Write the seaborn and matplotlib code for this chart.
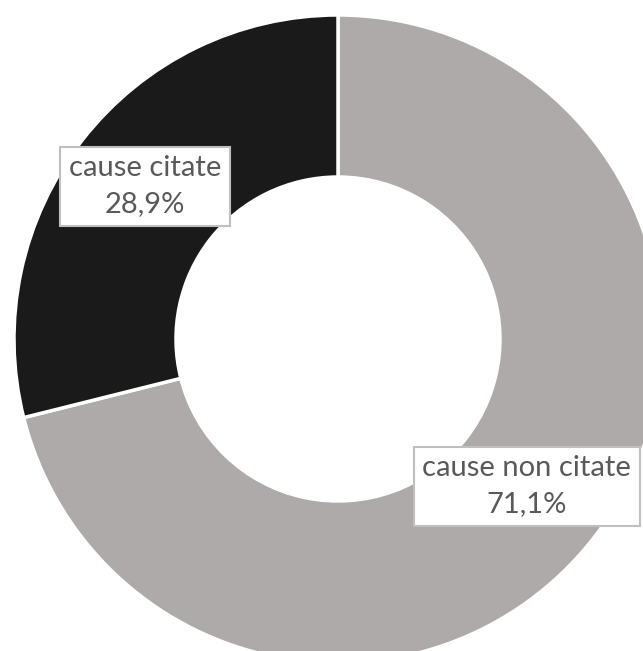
import matplotlib
matplotlib.use("Agg")
import matplotlib.pyplot as plt
import seaborn as sns

categories = ["cause non citate", "cause citate"]
values = [71.1, 28.9]
pct_labels = ["71,1%", "28,9%"]
colors = ["#AEAAA9", "#1A1A1A"]

sns.set_theme(style="white")
plt.rcParams['font.family'] = ['Lato', 'DejaVu Sans']

fig = plt.figure(figsize=(6.43, 6.51), dpi=100)
# pie is centred at (338, 339) px with radius 324 px, so it runs past the right and bottom edges
ax = fig.add_axes([(338 - 324) / 643, (651 - 339 - 324) / 651, 648 / 643, 648 / 651])

wedges, _ = ax.pie(values, colors=colors, startangle=90, counterclock=False,
                   radius=1, wedgeprops=dict(width=0.5, edgecolor="white", linewidth=2.5))
ax.set_xlim(-1, 1)
ax.set_ylim(-1, 1)
ax.axis("off")

label_pos = [(0.583, -0.454), (-0.596, 0.472)]
for cat, pct, (x, y) in zip(categories, pct_labels, label_pos):
    ax.text(x, y, f"{cat}\n{pct}", ha="center", va="center", fontsize=21,
            color="#595959", linespacing=1.45,
            bbox=dict(boxstyle="square,pad=0.3", facecolor="white", edgecolor="#BFBFBF", linewidth=1.5))

fig.savefig("out.png", dpi=100)
